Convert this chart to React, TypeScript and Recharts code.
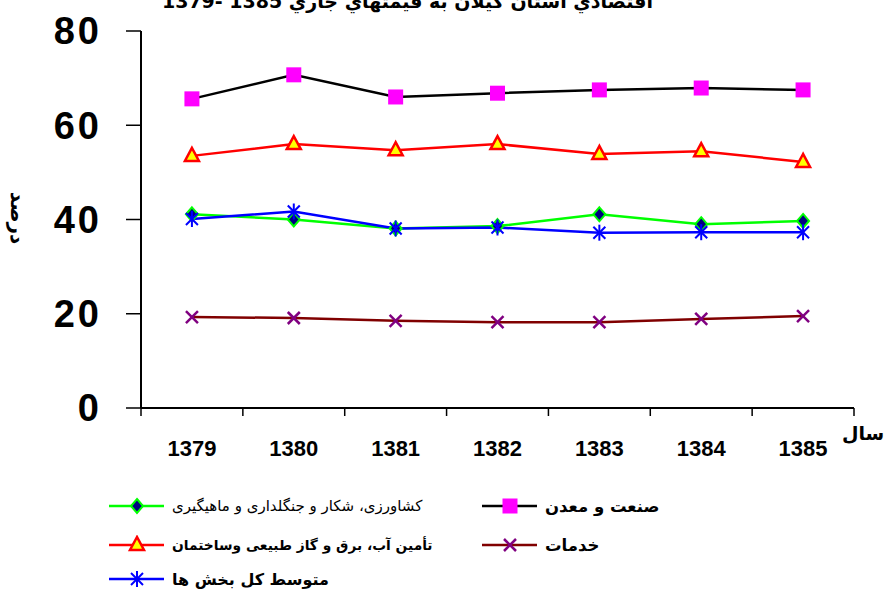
import { LineChart, Line, XAxis, YAxis } from "recharts"

const years = ["1379", "1380", "1381", "1382", "1383", "1384", "1385"]
const sanat = [65.6, 70.7, 66.0, 66.8, 67.5, 67.9, 67.5]
const keshavarzi = [41.1, 40.0, 38.1, 38.6, 41.1, 39.0, 39.7]
const khadamat = [19.3, 19.1, 18.5, 18.2, 18.2, 18.9, 19.5]
const tamin = [53.5, 56.0, 54.7, 56.0, 53.9, 54.5, 52.2]
const motavaset = [40.1, 41.7, 38.1, 38.3, 37.2, 37.3, 37.3]
const yTicks = [0, 20, 40, 60, 80]

const data = years.map((year, i) => ({
  idx: i,
  year,
  sanat: sanat[i],
  keshavarzi: keshavarzi[i],
  khadamat: khadamat[i],
  tamin: tamin[i],
  motavaset: motavaset[i],
}))

// label ticks on whole indices, tick marks on the half steps between categories
const xTicks: number[] = []
years.forEach((_, i) => {
  xTicks.push(i - 0.5)
  xTicks.push(i)
})
xTicks.push(years.length - 0.5)

const persian = "'DejaVu Sans', sans-serif"
const latin = "'Liberation Sans', Arial, sans-serif"

const Square = ({ cx, cy }: any) => (
  <rect x={cx - 7.5} y={cy - 7.5} width={15} height={15} fill="#ff00ff" />
)
const Triangle = ({ cx, cy }: any) => (
  <polygon
    points={`${cx},${cy - 8} ${cx - 7},${cy + 5} ${cx + 7},${cy + 5}`}
    fill="#ffff00"
    stroke="#ff0000"
    strokeWidth={2.5}
    strokeLinejoin="miter"
  />
)
const Diamond = ({ cx, cy }: any) => (
  <polygon
    points={`${cx},${cy - 7} ${cx + 6},${cy} ${cx},${cy + 7} ${cx - 6},${cy}`}
    fill="#000080"
    stroke="#00ff00"
    strokeWidth={2}
  />
)
const Cross = ({ cx, cy }: any) => (
  <g stroke="#800080" strokeWidth={2.5}>
    <line x1={cx - 6} y1={cy - 6} x2={cx + 6} y2={cy + 6} />
    <line x1={cx - 6} y1={cy + 6} x2={cx + 6} y2={cy - 6} />
  </g>
)
const Star = ({ cx, cy }: any) => (
  <g stroke="#0000ff" strokeWidth={2}>
    <line x1={cx} y1={cy - 8} x2={cx} y2={cy + 8} />
    <line x1={cx - 6} y1={cy - 6} x2={cx + 6} y2={cy + 6} />
    <line x1={cx - 6} y1={cy + 6} x2={cx + 6} y2={cy - 6} />
  </g>
)

const XTick = ({ x, y, payload }: any) => {
  const v = payload.value
  if (Number.isInteger(v)) {
    return (
      <text
        x={x}
        y={y + 32}
        dy="0.71em"
        textAnchor="middle"
        fontFamily={latin}
        fontWeight="bold"
        fontSize={22}
        fill="#000"
      >
        {years[v]}
      </text>
    )
  }
  return <line x1={x} y1={y} x2={x} y2={y + 8} stroke="#000" strokeWidth={1.5} />
}

const LegendItem = ({ left, top, text, bold, size, color, Marker }: any) => (
  <div style={{ position: "absolute", left, top, display: "flex", alignItems: "center" }}>
    <svg width={58} height={20}>
      <line x1={1} y1={10} x2={56} y2={10} stroke={color} strokeWidth={2.5} />
      <Marker cx={29} cy={10} />
    </svg>
    <span
      dir="rtl"
      style={{
        marginLeft: 6,
        fontFamily: persian,
        fontSize: size,
        fontWeight: bold ? "bold" : "normal",
        whiteSpace: "nowrap",
      }}
    >
      {text}
    </span>
  </div>
)

export default function App() {
  return (
    <div
      style={{
        position: "fixed",
        top: 0,
        left: 0,
        width: 887,
        height: 592,
        overflow: "hidden",
        background: "#fff",
      }}
    >
      <div
        dir="rtl"
        style={{
          position: "absolute",
          top: -10,
          left: 0,
          width: 815,
          textAlign: "center",
          fontFamily: persian,
          fontWeight: "bold",
          fontSize: 19,
          whiteSpace: "nowrap",
        }}
      >
        اقتصادي استان گيلان به قيمتهاي جاري 1385 -1379
      </div>

      <LineChart
        width={887}
        height={592}
        data={data}
        margin={{ top: 31, right: 33, left: 0, bottom: 124 }}
      >
        <XAxis
          dataKey="idx"
          type="number"
          domain={[-0.5, years.length - 0.5]}
          ticks={xTicks}
          interval={0}
          tick={<XTick />}
          tickLine={false}
          tickSize={0}
          tickMargin={0}
          height={60}
          axisLine={{ stroke: "#000", strokeWidth: 2 }}
        />
        <YAxis
          domain={[0, 80]}
          ticks={yTicks}
          width={141}
          tickSize={15}
          tickMargin={24}
          tickLine={{ stroke: "#000", strokeWidth: 1.5 }}
          axisLine={{ stroke: "#000", strokeWidth: 2 }}
          tick={{ fill: "#000", fontSize: 38, fontWeight: "bold", fontFamily: latin, letterSpacing: 3 }}
        />
        <Line dataKey="sanat" stroke="#000000" strokeWidth={2.5} dot={<Square />} isAnimationActive={false} />
        <Line dataKey="keshavarzi" stroke="#00ff00" strokeWidth={2.5} dot={<Diamond />} isAnimationActive={false} />
        <Line dataKey="khadamat" stroke="#800000" strokeWidth={2.5} dot={<Cross />} isAnimationActive={false} />
        <Line dataKey="tamin" stroke="#ff0000" strokeWidth={2.5} dot={<Triangle />} isAnimationActive={false} />
        <Line dataKey="motavaset" stroke="#0000ff" strokeWidth={2.5} dot={<Star />} isAnimationActive={false} />
      </LineChart>

      <div
        style={{
          position: "absolute",
          left: 18,
          top: 218,
          transform: "translate(-50%, -50%) rotate(90deg)",
          fontFamily: persian,
          fontWeight: "bold",
          fontSize: 20,
          lineHeight: "20px",
          whiteSpace: "nowrap",
        }}
      >
        درصد
      </div>
      <div
        style={{
          position: "absolute",
          left: 842,
          top: 422,
          fontFamily: persian,
          fontWeight: "bold",
          fontSize: 19,
        }}
      >
        سال
      </div>

      <LegendItem left={108} top={496} size={15} text="کشاورزی، شکار و جنگلداری و ماهیگیری" color="#00ff00" Marker={Diamond} />
      <LegendItem left={481} top={496} size={16.5} text="صنعت و معدن" bold color="#000000" Marker={Square} />
      <LegendItem left={108} top={535} size={13.8} text="تأمین آب، برق و گاز طبیعی وساختمان" bold color="#ff0000" Marker={Triangle} />
      <LegendItem left={481} top={535} size={16.5} text="خدمات" bold color="#800000" Marker={Cross} />
      <LegendItem left={108} top={569} size={16} text="متوسط کل بخش ها" bold color="#0000ff" Marker={Star} />
    </div>
  )
}
